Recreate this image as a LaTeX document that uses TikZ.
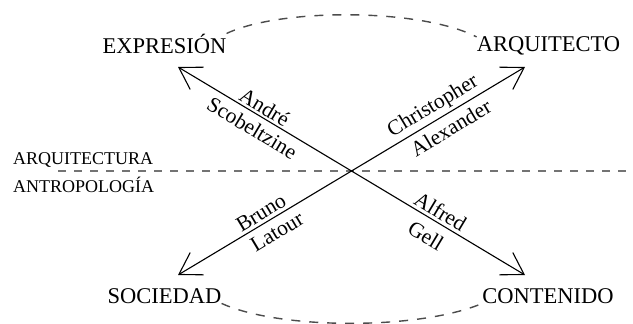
\documentclass[tikz,border=0pt]{standalone}
\usepackage{fontspec}
\setmainfont{Liberation Serif}
\usetikzlibrary{arrows.meta}
\begin{document}
\begin{tikzpicture}[x=1pt,y=-1pt,
  term/.style={inner sep=0pt,anchor=base,font=\fontsize{22.5}{27}\selectfont},
  field/.style={inner sep=0pt,anchor=base west,font=\fontsize{18}{22}\selectfont},
  axis/.style={line width=1.1pt,-{Straight Barb[length=21pt,width=26pt]}},
  who/.style={sloped,font=\fontsize{21.5}{26}\selectfont,inner sep=0pt},
  divider/.style={black!55,line width=1.8pt,dash pattern=on 8pt off 8pt},
  link/.style={black!70,line width=1.4pt,dash pattern=on 9pt off 9pt}]
\useasboundingbox (0,0) rectangle (633,324);

% four poles
\node[term] (expr) at (164.5,53) {EXPRESIÓN};
\node[term] (arq)  at (548.5,52) {ARQUITECTO};
\node[term] (soc)  at (164.5,303) {SOCIEDAD};
\node[term] (cont) at (548,303) {CONTENIDO};

% the two fields separated by the dashed line
\node[field] (fa) at (13,164) {ARQUITECTURA};
\node[field] (fb) at (13,192) {ANTROPOLOGÍA};
\coordinate (dl) at (58,171);
\coordinate (dr) at (628,171);
\draw[divider] (dl) -- (dr);

% crossing point and arrow tips
\coordinate (c) at (351.5,171);
\coordinate (tE) at (178,67);
\coordinate (tA) at (525,67);
\coordinate (tS) at (178,275);
\coordinate (tC) at (525,275);

\draw[axis] (c) -- (tE)
  node[who,pos=.53,above=2pt] {André}
  node[who,pos=.53,below=6pt] {Scobeltzine};
\draw[axis] (c) -- (tA)
  node[who,pos=.51,above=3pt] {Christopher}
  node[who,pos=.53,below=6pt] {Alexander};
\draw[axis] (c) -- (tS)
  node[who,pos=.49,above=3pt] {Bruno}
  node[who,pos=.47,below=6pt] {Latour};
\draw[axis] (c) -- (tC)
  node[who,pos=.48,above=3pt] {Alfred}
  node[who,pos=.48,below=9pt] {Gell};

% dashed arcs joining the poles
\draw[link] (expr.north east) .. controls (280,8) and (420,8) .. (arq.north west);
\draw[link] (soc.south east) .. controls (280,330) and (420,330) .. (cont.south west);
\end{tikzpicture}
\end{document}
